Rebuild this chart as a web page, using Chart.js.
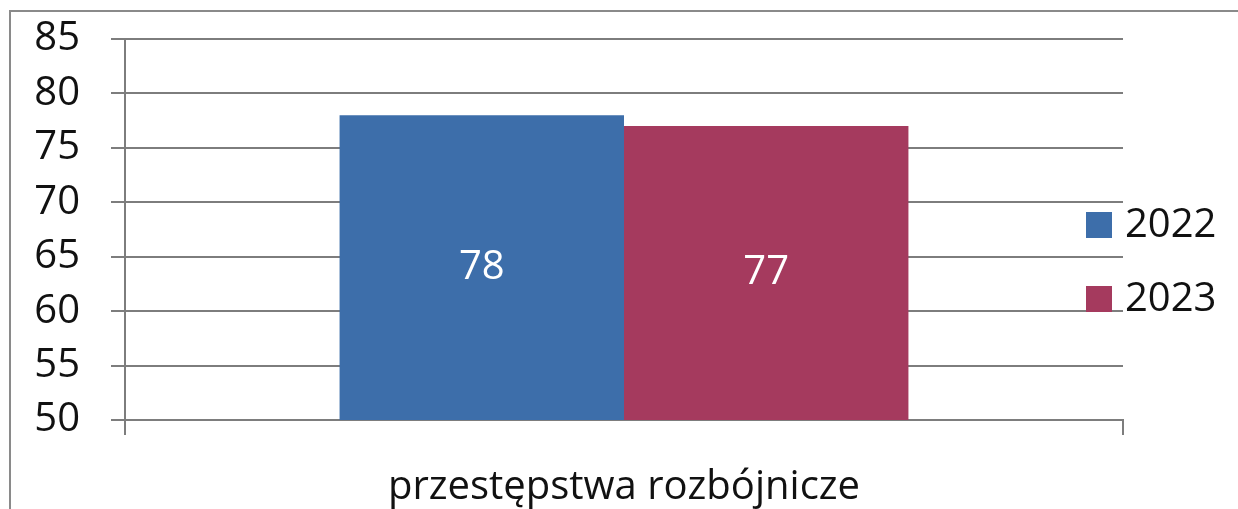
<!DOCTYPE html>
<html>
<head>
<meta charset="utf-8">
<script src="https://cdn.jsdelivr.net/npm/chart.js@4/dist/chart.umd.min.js"></script>
<style>
  html, body { margin: 0; padding: 0; background: #fff; overflow: hidden; }
  #frame { position: absolute; left: 9px; top: 10px; width: 1400px; height: 700px;
           border-top: 2px solid #8a8a8a; border-left: 2px solid #8a8a8a; }
  #wrap { position: absolute; left: 0; top: 0; width: 1238px; height: 509px; }
</style>
</head>
<body>
<div id="frame"></div>
<div id="wrap"><canvas id="c" width="1238" height="509"></canvas></div>
<script>
const categories = ['przestępstwa rozbójnicze'];
const seriesNames = ['2022', '2023'];
const values2022 = [78];
const values2023 = [77];
const seriesColors = ['#3d6eaa', '#a53a5e'];
const yMin = 50, yMax = 85, yStep = 5;

const FONT = "'Open Sans', 'DejaVu Sans', sans-serif";
const gridColor = '#7d7d7d';

const valueLabels = {
  id: 'valueLabels',
  afterDraw(chart) {
    const ctx = chart.ctx;
    const ys = chart.scales.y;
    ctx.save();
    ctx.fillStyle = '#ffffff';
    ctx.font = '40px ' + FONT;
    ctx.textAlign = 'center';
    ctx.textBaseline = 'middle';
    chart.data.datasets.forEach((ds, i) => {
      const meta = chart.getDatasetMeta(i);
      meta.data.forEach((bar, j) => {
        const p = bar.getProps(['x'], true);
        const top = ys.getPixelForValue(ds.data[j]);
        const bottom = ys.bottom;
        ctx.fillText(String(ds.data[j]), p.x, (top + bottom) / 2);
      });
    });
    ctx.restore();
  }
};

const sideLegend = {
  id: 'sideLegend',
  afterDraw(chart) {
    const ctx = chart.ctx;
    const a = chart.chartArea;
    ctx.save();
    ctx.font = '40px ' + FONT;
    ctx.textBaseline = 'middle';
    ctx.textAlign = 'left';
    const x0 = a.right - 37;
    const yCenters = [225, 299];
    chart.data.datasets.forEach((ds, i) => {
      const yc = yCenters[i];
      ctx.fillStyle = ds.backgroundColor;
      ctx.fillRect(x0, yc - 13, 26, 26);
      ctx.fillStyle = '#111';
      ctx.fillText(ds.label, x0 + 39, yc + 1);
    });
    ctx.restore();
  }
};

new Chart(document.getElementById('c'), {
  type: 'bar',
  data: {
    labels: categories,
    datasets: [
      { label: seriesNames[0], data: values2022, backgroundColor: seriesColors[0] },
      { label: seriesNames[1], data: values2023, backgroundColor: seriesColors[1] }
    ]
  },
  options: {
    responsive: false,
    animation: false,
    layout: { padding: { left: 0, right: 115, top: 39, bottom: 0 } },
    plugins: { legend: { display: false }, tooltip: { enabled: false } },
    datasets: { bar: { categoryPercentage: 0.57, barPercentage: 1.0 } },
    scales: {
      x: {
        grid: { offset: true, drawOnChartArea: false, drawTicks: true, tickLength: 15,
                color: gridColor, lineWidth: 2 },
        border: { display: true, color: gridColor, width: 2 },
        ticks: { color: '#111', font: { family: FONT, size: 40 }, padding: 29 },
        afterFit(s) { s.height = 89; s.paddingLeft = 0; s.paddingRight = 0; }
      },
      y: {
        min: yMin, max: yMax,
        grid: { color: gridColor, lineWidth: 2, tickLength: 14, drawTicks: true },
        border: { display: true, color: gridColor, width: 2 },
        ticks: { stepSize: yStep, color: '#111', font: { family: FONT, size: 40 }, padding: 31 },
        afterFit(s) { s.width = 125; s.paddingTop = 0; s.paddingBottom = 0; }
      }
    }
  },
  plugins: [valueLabels, sideLegend]
});
</script>
</body>
</html>
